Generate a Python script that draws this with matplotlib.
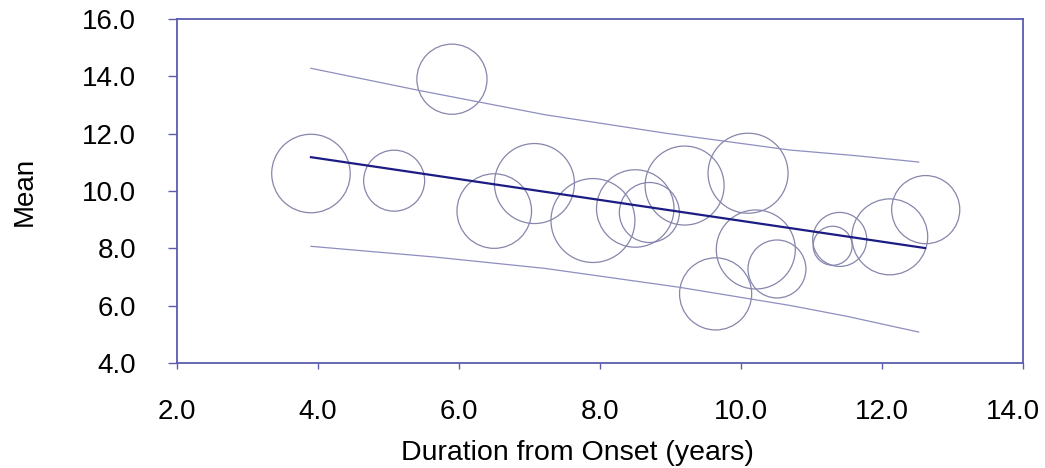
import numpy as np
import matplotlib
matplotlib.use("Agg")
import matplotlib.pyplot as plt
import matplotlib.transforms as mtransforms

plt.rcParams['font.family'] = ['Liberation Sans', 'DejaVu Sans']

# study points: duration (years), mean, bubble weight
duration = [3.90, 5.08, 5.90, 6.50, 7.07, 7.90, 8.50, 8.70, 9.20,
            9.64, 10.10, 10.21, 10.51, 11.40, 11.30, 12.11, 12.62]
mean = [10.61, 10.36, 13.90, 9.30, 10.26, 8.97, 9.39, 9.25, 10.19,
        6.41, 10.62, 7.96, 7.28, 8.31, 8.09, 8.40, 9.35]
weight = [15.4, 9.3, 12.3, 13.9, 16.0, 17.6, 15.0, 9.0, 15.6,
          13.0, 16.0, 15.6, 8.4, 7.3, 3.8, 14.4, 11.6]

# regression line end points
fit_x = [3.90, 12.61]
fit_y = [11.18, 8.01]

# interval bands
upper_x = [3.90, 5.45, 7.22, 8.92, 10.69, 11.64, 12.52]
upper_y = [14.28, 13.50, 12.66, 12.02, 11.43, 11.23, 11.01]
lower_x = [3.90, 5.64, 7.22, 9.13, 10.69, 11.50, 12.52]
lower_y = [8.07, 7.70, 7.30, 6.64, 6.01, 5.63, 5.08]

xticks = [2.0, 4.0, 6.0, 8.0, 10.0, 12.0, 14.0]
yticks = [4.0, 6.0, 8.0, 10.0, 12.0, 14.0, 16.0]

frame = "#5c5cae"

fig = plt.figure(figsize=(10.45, 4.68), dpi=100)
ax = fig.add_axes([177 / 1045, 1 - 363 / 468, 846 / 1045, 344 / 468])

ax.plot(upper_x, upper_y, color="#8e8ec0", lw=0.9)
ax.plot(lower_x, lower_y, color="#8e8ec0", lw=0.9)
ax.plot(fit_x, fit_y, color="#1c1c84", lw=1.6)

sizes = np.array(weight) * 207.4
ax.scatter(duration, mean, s=sizes, facecolors="none",
           edgecolors="#8686ac", linewidths=0.9)

ax.set_xlim(2, 14)
ax.set_ylim(4, 16)
ax.set_xticks(xticks)
ax.set_yticks(yticks)
ax.set_xticklabels([f"{v:.1f}" for v in xticks])
ax.set_yticklabels([f"{v:.1f}" for v in yticks])

for s in ax.spines.values():
    s.set_color(frame)
    s.set_linewidth(1.3)

ax.tick_params(axis="y", direction="out", length=6.5, width=1, color=frame,
               labelsize=20, pad=23)
ax.tick_params(axis="x", direction="out", length=4, width=1, color=frame,
               labelsize=20, pad=22)

# last x label sits a little left so it stays inside the picture
last = ax.get_xticklabels()[-1]
last.set_transform(last.get_transform() +
                   mtransforms.ScaledTranslation(-10 / 100, 0, fig.dpi_scale_trans))

ax.set_xlabel("Duration from Onset (years)", fontsize=20.5)
ax.xaxis.set_label_coords(0.473, -0.225)
ax.set_ylabel("Mean", fontsize=20, labelpad=32)

fig.savefig("out.png", dpi=100)
